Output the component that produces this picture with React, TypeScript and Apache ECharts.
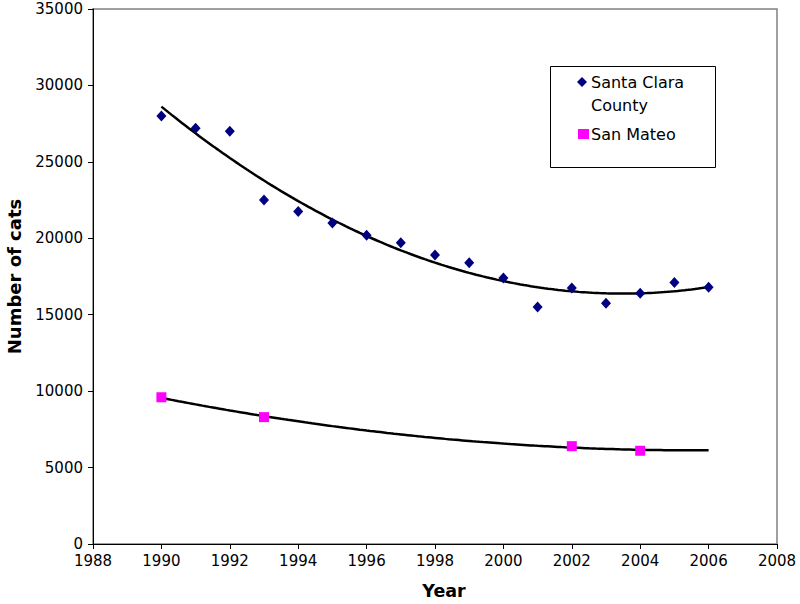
import React, { useEffect, useRef } from "react";
import * as echarts from "echarts";

const scYears = [1990, 1991, 1992, 1993, 1994, 1995, 1996, 1997, 1998, 1999, 2000, 2001, 2002, 2003, 2004, 2005, 2006];
const santaClara = [28000, 27200, 27000, 22500, 21750, 21000, 20200, 19700, 18900, 18400, 17400, 15500, 16750, 15750, 16400, 17100, 16800];
const smYears = [1990, 1993, 2002, 2004];
const sanMateo = [9600, 8300, 6400, 6100];
const xTicks = { min: 1988, max: 2008, interval: 2 };
const yTicks = { min: 0, max: 35000, interval: 5000 };
const trendRange = [1990, 2006];

// Excel-style 2nd-order polynomial trendline (least squares)
function quadFit(xs: number[], ys: number[]) {
  const x0 = 1998;
  const n = xs.length;
  let s0 = n, s1 = 0, s2 = 0, s3 = 0, s4 = 0, t0 = 0, t1 = 0, t2 = 0;
  xs.forEach((xv, i) => {
    const x = xv - x0;
    const y = ys[i];
    s1 += x; s2 += x * x; s3 += x * x * x; s4 += x * x * x * x;
    t0 += y; t1 += x * y; t2 += x * x * y;
  });
  const M = [
    [s0, s1, s2, t0],
    [s1, s2, s3, t1],
    [s2, s3, s4, t2],
  ];
  for (let c = 0; c < 3; c++) {
    let p = c;
    for (let r = c + 1; r < 3; r++) if (Math.abs(M[r][c]) > Math.abs(M[p][c])) p = r;
    [M[c], M[p]] = [M[p], M[c]];
    for (let r = 0; r < 3; r++) {
      if (r === c) continue;
      const f = M[r][c] / M[c][c];
      for (let k = c; k < 4; k++) M[r][k] -= f * M[c][k];
    }
  }
  const a = M[0][3] / M[0][0], b = M[1][3] / M[1][1], cc = M[2][3] / M[2][2];
  return (xv: number) => {
    const x = xv - x0;
    return a + b * x + cc * x * x;
  };
}

function trend(xs: number[], ys: number[]) {
  const f = quadFit(xs, ys);
  const pts: number[][] = [];
  for (let i = 0; i <= 160; i++) {
    const x = trendRange[0] + ((trendRange[1] - trendRange[0]) * i) / 160;
    pts.push([x, f(x)]);
  }
  return pts;
}

const FONT = "DejaVu Sans";

export default function App() {
  const ref = useRef<HTMLDivElement>(null);
  useEffect(() => {
    if (!ref.current) return;
    const chart = echarts.init(ref.current, null, { renderer: "svg" });
    chart.setOption({
      animation: false,
      backgroundColor: "#ffffff",
      grid: {
        left: 93,
        right: 23,
        top: 9,
        bottom: 60,
        containLabel: false,
        outerBoundsMode: "none",
        show: true,
        borderColor: "#808080",
        borderWidth: 1.5,
        backgroundColor: "transparent",
      },
      xAxis: {
        type: "value",
        min: xTicks.min,
        max: xTicks.max,
        interval: xTicks.interval,
        name: "Year",
        nameLocation: "middle",
        nameGap: 38,
        nameTextStyle: { fontFamily: FONT, fontSize: 17.5, fontWeight: "bold", color: "#000", padding: [0, 0, 0, 18] },
        axisLine: { lineStyle: { color: "#000", width: 1 } },
        axisTick: { show: true, inside: false, length: 5, lineStyle: { color: "#000" } },
        axisLabel: { fontFamily: FONT, fontSize: 15, color: "#000", margin: 9, formatter: (v: number) => String(v) },
        splitLine: { show: false },
      },
      yAxis: {
        type: "value",
        min: yTicks.min,
        max: yTicks.max,
        interval: yTicks.interval,
        name: "Number of cats",
        nameLocation: "middle",
        nameGap: 70,
        nameTextStyle: { fontFamily: FONT, fontSize: 18, fontWeight: "bold", color: "#000" },
        axisLine: { show: true, lineStyle: { color: "#000", width: 1 } },
        axisTick: { show: true, inside: false, length: 5, lineStyle: { color: "#000" } },
        axisLabel: { fontFamily: FONT, fontSize: 15, color: "#000", margin: 10, formatter: (v: number) => String(v) },
        splitLine: { show: false },
      },
      series: [
        {
          name: "Santa Clara trend",
          type: "line",
          data: trend(scYears, santaClara),
          showSymbol: false,
          symbol: "none",
          lineStyle: { color: "#000", width: 2.5 },
          z: 2,
          silent: true,
        },
        {
          name: "San Mateo trend",
          type: "line",
          data: trend(smYears, sanMateo),
          showSymbol: false,
          symbol: "none",
          lineStyle: { color: "#000", width: 2.5 },
          z: 2,
          silent: true,
        },
        {
          name: "Santa Clara County",
          type: "scatter",
          data: scYears.map((y, i) => [y, santaClara[i]]),
          symbol: "diamond",
          symbolSize: [10, 11],
          itemStyle: { color: "#000080", opacity: 1 },
          z: 3,
        },
        {
          name: "San Mateo",
          type: "scatter",
          data: smYears.map((y, i) => [y, sanMateo[i]]),
          symbol: "rect",
          symbolSize: 10,
          itemStyle: { color: "#ff00ff", opacity: 1 },
          z: 3,
        },
      ],
      graphic: [
        {
          type: "group",
          children: [
            {
              type: "rect",
              shape: { x: 550.5, y: 66.5, width: 165, height: 101 },
              style: { fill: "#fff", stroke: "#000", lineWidth: 1 },
            },
            {
              type: "polygon",
              shape: { points: [[582, 77], [587, 82], [582, 87], [577, 82]] },
              style: { fill: "#000080" },
            },
            {
              type: "text",
              x: 591,
              y: 82,
              style: { text: "Santa Clara", fontFamily: FONT, fontSize: 16, fill: "#000", verticalAlign: "middle" },
            },
            {
              type: "text",
              x: 591,
              y: 105,
              style: { text: "County", fontFamily: FONT, fontSize: 16, fill: "#000", verticalAlign: "middle" },
            },
            {
              type: "rect",
              shape: { x: 578, y: 129, width: 11, height: 10 },
              style: { fill: "#ff00ff" },
            },
            {
              type: "text",
              x: 591,
              y: 134,
              style: { text: "San Mateo", fontFamily: FONT, fontSize: 16, fill: "#000", verticalAlign: "middle" },
            },
          ],
        },
      ],
    });
    return () => chart.dispose();
  }, []);
  return <div ref={ref} style={{ width: 800, height: 604, position: "absolute", left: 0, top: 0 }} />;
}
